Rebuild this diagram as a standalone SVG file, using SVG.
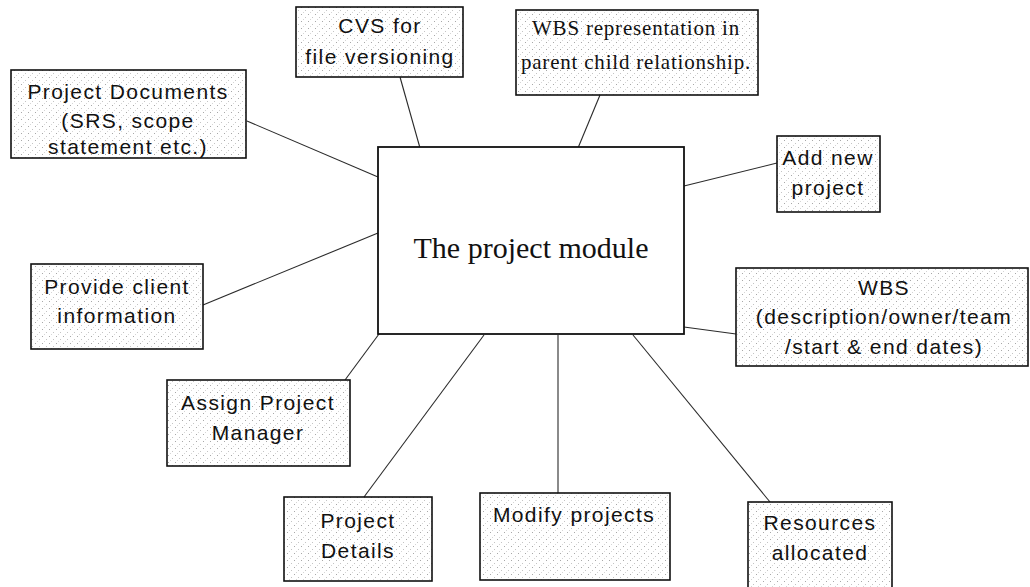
<svg xmlns="http://www.w3.org/2000/svg" width="1030" height="587" viewBox="0 0 1030 587">
  <defs>
    <!-- sparse dither used as the fill of the satellite boxes -->
    <pattern id="dither" width="7" height="7" patternUnits="userSpaceOnUse">
      <rect width="7" height="7" fill="#ffffff"/>
      <rect x="0" y="0" width="1" height="1" fill="#a8a8a8"/>
      <rect x="4" y="3" width="1" height="1" fill="#c4c4c4"/>
      <rect x="2" y="5" width="1" height="1" fill="#d6d6d6"/>
    </pattern>
    <style>
      .box { fill: url(#dither); stroke: #111; stroke-width: 1.6; }
      .main { fill: #ffffff; stroke: #111; stroke-width: 1.8; }
      .lbl { font-family: "Liberation Sans", Arial, sans-serif; font-size: 21px; letter-spacing: 1.4px; fill: #111; text-anchor: middle; }
      .ser { font-family: "Liberation Serif", "Times New Roman", serif; font-size: 21px; letter-spacing: 0.8px; fill: #111; text-anchor: middle; }
      .title { font-family: "Liberation Serif", "Times New Roman", serif; font-size: 30px; fill: #111; text-anchor: middle; }
      .conn line { stroke: #2a2a2a; stroke-width: 1.1; }
    </style>
  </defs>

  <rect width="1030" height="587" fill="#ffffff"/>

  <!-- connectors from the central module to each satellite box -->
  <g id="connectors" class="conn">
    <line x1="247" y1="121" x2="378" y2="177"/>
    <line x1="400" y1="77" x2="420" y2="148"/>
    <line x1="600" y1="95" x2="578" y2="148"/>
    <line x1="684" y1="186" x2="777" y2="163"/>
    <line x1="203" y1="305" x2="378" y2="233"/>
    <line x1="684" y1="327" x2="736" y2="334"/>
    <line x1="345" y1="380" x2="379" y2="334"/>
    <line x1="364" y1="497" x2="484" y2="335"/>
    <line x1="558" y1="335" x2="558" y2="493"/>
    <line x1="633" y1="335" x2="770" y2="502"/>
  </g>

  <g id="module">
    <rect class="main" x="378" y="147" width="306" height="187"/>
    <text class="title" x="531" y="258">The project module</text>
  </g>

  <g id="project-documents">
    <rect class="box" x="11" y="70" width="235" height="88"/>
    <text class="lbl" x="128" y="99">Project Documents</text>
    <text class="lbl" x="128" y="128">(SRS, scope</text>
    <text class="lbl" x="128" y="154">statement etc.)</text>
  </g>

  <g id="cvs">
    <rect class="box" x="296" y="7" width="167" height="70"/>
    <text class="lbl" x="380" y="33">CVS for</text>
    <text class="lbl" x="380" y="64">file versioning</text>
  </g>

  <g id="wbs-representation">
    <rect class="box" x="516" y="10" width="242" height="85"/>
    <text class="ser" x="636" y="35">WBS representation in</text>
    <text class="ser" x="636" y="69">parent child relationship.</text>
  </g>

  <g id="add-new-project">
    <rect class="box" x="777" y="136" width="103" height="76"/>
    <text class="lbl" x="828" y="165">Add new</text>
    <text class="lbl" x="828" y="195">project</text>
  </g>

  <g id="client-info">
    <rect class="box" x="31" y="264" width="172" height="85"/>
    <text class="lbl" x="117" y="294">Provide client</text>
    <text class="lbl" x="117" y="323">information</text>
  </g>

  <g id="wbs-details">
    <rect class="box" x="736" y="268" width="292" height="98"/>
    <text class="lbl" x="884" y="295">WBS</text>
    <text class="lbl" x="884" y="324">(description/owner/team</text>
    <text class="lbl" x="884" y="354">/start &amp; end dates)</text>
  </g>

  <g id="assign-manager">
    <rect class="box" x="167" y="380" width="183" height="86"/>
    <text class="lbl" x="258" y="410">Assign Project</text>
    <text class="lbl" x="258" y="440">Manager</text>
  </g>

  <g id="project-details">
    <rect class="box" x="284" y="497" width="148" height="84"/>
    <text class="lbl" x="358" y="528">Project</text>
    <text class="lbl" x="358" y="558">Details</text>
  </g>

  <g id="modify-projects">
    <rect class="box" x="480" y="493" width="190" height="87"/>
    <text class="lbl" x="574" y="522">Modify projects</text>
  </g>

  <g id="resources">
    <rect class="box" x="748" y="502" width="144" height="90"/>
    <text class="lbl" x="820" y="530">Resources</text>
    <text class="lbl" x="820" y="560">allocated</text>
  </g>
</svg>
